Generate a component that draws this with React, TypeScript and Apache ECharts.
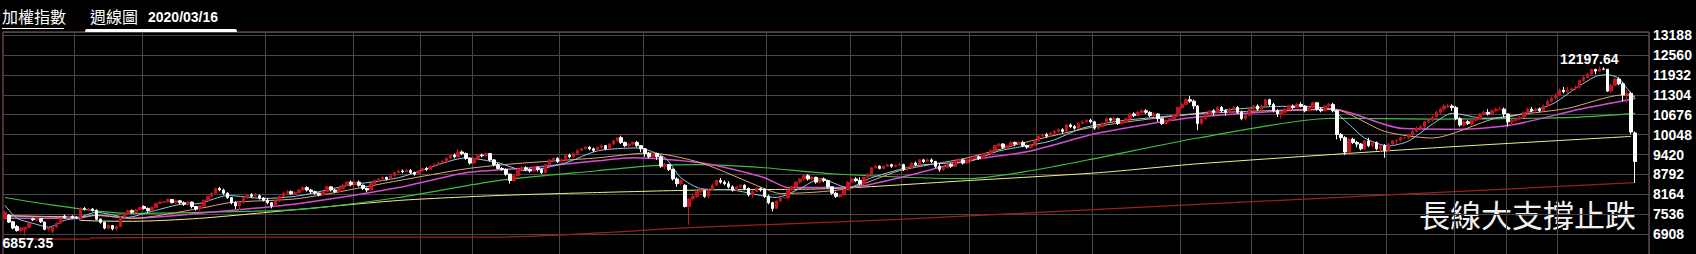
import React, { useEffect, useRef } from "react";
import * as echarts from "echarts";

type K = [number, number, number, number]; // open, close, low, high
type P = [number, number]; // week index, value

const k2012: K[] = [
  [7420,7600,7380,7650],[7510,7290,7260,7540],[7300,7100,7060,7330],[7150,7020,6990,7200],[7020,7100,6950,7130],
  [7060,7120,6857.35,7150],[7120,7250,7080,7280],[7390,7360,7320,7430],[7360,7400,7300,7440],[7400,7300,7260,7420],
  [7290,7060,7030,7310],[7060,7100,7000,7130],[7000,7130,6940,7150],[7130,7250,7100,7280],[7250,7400,7230,7420],
  [7480,7440,7400,7520],[7440,7460,7410,7500],[7470,7430,7400,7500],[7440,7420,7380,7480],[7420,7720,7400,7760],
  [7720,7690,7650,7760],[7690,7700,7640,7740],[7700,7660,7620,7730],[7660,7380,7350,7690],[7380,7280,7240,7400],
  [7280,7100,7060,7300],[7100,7180,7050,7220],[7180,7080,7030,7200],[7080,7150,7020,7180],[7150,7450,7130,7480],
  [7450,7560,7420,7590],[7560,7650,7520,7680],[7650,7600,7560,7690],[7600,7680,7580,7710],[7680,7750,7660,7780],
];
const k2013: K[] = [
  [7780,7720,7680,7820],[7720,7650,7600,7750],[7650,7750,7630,7780],[7750,7880,7720,7900],[7880,7920,7850,7950],
  [7920,7930,7900,7960],[7930,8000,7900,8030],[8000,7900,7880,8020],[7900,7960,7870,8000],[7960,7900,7850,7990],
  [7900,7850,7800,7940],[7850,7920,7830,7950],[7920,7780,7720,7940],[7780,7700,7650,7800],[7700,7800,7650,7830],
  [7800,7980,7780,8000],[7980,8100,7960,8120],[8100,8200,8080,8230],[8200,8350,8180,8380],[8350,8300,8260,8400],
  [8300,8200,8150,8340],[8200,8060,8020,8230],[8060,7900,7850,8080],[7900,7800,7700,7950],[7800,7900,7660,7930],
  [7900,8050,7880,8080],[8050,8150,8020,8180],[8150,8100,8050,8200],[8100,8120,8050,8200],[8120,8050,8000,8160],
  [8050,7980,7940,8080],[7980,7900,7850,8050],[7900,7800,7720,7920],[7800,7950,7780,7980],[7950,8100,7930,8130],
  [8100,8200,8080,8250],[8200,8250,8150,8300],[8250,8180,8150,8290],[8180,8220,8150,8260],[8220,8300,8200,8330],
  [8300,8380,8280,8420],[8380,8300,8250,8420],[8300,8250,8200,8340],[8250,8200,8150,8280],[8200,8150,8100,8220],
  [8150,8250,8130,8280],[8250,8400,8230,8420],[8400,8300,8250,8420],[8300,8250,8200,8340],[8250,8350,8230,8380],
  [8350,8450,8330,8480],[8450,8550,8430,8580],
];
const k2014: K[] = [
  [8550,8480,8420,8600],[8480,8550,8450,8580],[8550,8450,8400,8600],[8450,8350,8300,8470],[8350,8300,8230,8380],
  [8300,8500,8280,8520],[8500,8600,8480,8630],[8600,8650,8560,8680],[8650,8700,8580,8730],[8700,8650,8600,8720],
  [8650,8750,8630,8780],[8750,8850,8720,8870],[8850,8900,8820,8950],[8900,8880,8830,8950],[8880,8920,8850,8960],
  [8920,8850,8800,8960],[8850,8800,8750,8880],[8800,8900,8780,8930],[8900,8980,8870,9000],[8980,8950,8900,9020],
  [8950,9050,8930,9080],[9050,9100,9020,9130],[9100,9150,9080,9200],[9150,9200,9120,9250],[9200,9300,9180,9330],
  [9300,9400,9280,9430],[9400,9350,9300,9450],[9350,9500,9330,9593],[9500,9450,9400,9550],[9450,9300,9250,9480],
  [9300,9150,9100,9330],[9150,9300,9130,9330],[9300,9400,9280,9430],[9400,9380,9330,9450],[9380,9450,9350,9480],
  [9450,9250,9200,9470],[9250,9100,9050,9280],[9100,8980,8950,9150],[8980,8950,8900,9020],[8950,8800,8750,8980],
  [8800,8600,8500,8820],[8600,8750,8550,8780],[8750,8950,8720,8980],[8950,9000,8900,9050],[9000,8950,8900,9050],
  [8950,8900,8850,8980],[8900,9000,8880,9030],[9000,8950,8880,9050],[8950,8850,8800,8980],[8850,9100,8750,9130],
  [9100,9250,9080,9280],[9250,9300,9220,9330],
];
const k2015: K[] = [
  [9300,9200,9150,9330],[9200,9250,9150,9300],[9250,9400,9230,9430],[9400,9350,9300,9450],[9350,9450,9300,9480],
  [9450,9550,9420,9580],[9550,9600,9540,9620],[9600,9650,9580,9690],[9650,9600,9550,9680],[9600,9550,9500,9640],
  [9550,9650,9530,9680],[9650,9700,9600,9740],[9700,9600,9560,9720],[9600,9750,9580,9780],[9750,9850,9720,9880],
  [9850,9950,9820,9980],[9950,9800,9750,10014],[9800,9700,9650,9830],[9700,9750,9650,9780],[9750,9800,9700,9830],
  [9800,9700,9650,9850],[9700,9600,9500,9720],[9600,9450,9350,9620],[9450,9350,9300,9500],[9350,9450,9320,9480],
  [9450,9350,9250,9480],[9350,9050,9000,9380],[9050,9100,8950,9150],[9100,8950,8900,9120],[8950,8650,8600,8980],
  [8650,8500,8400,8700],[8500,8600,8450,8650],[8450,7780,7750,8480],[7780,8020,7203,8050],[8020,8100,7950,8200],
  [8100,8250,8050,8300],[8250,8280,8200,8380],[8280,8100,8050,8300],[8100,8300,8050,8330],[8300,8450,8280,8500],
  [8450,8600,8420,8630],[8600,8550,8500,8680],[8550,8500,8450,8600],[8500,8400,8350,8580],[8400,8300,8250,8450],
  [8300,8400,8280,8430],[8400,8450,8350,8480],[8450,8350,8300,8480],[8350,8150,8100,8380],[8150,8250,8050,8300],
  [8250,8350,8230,8380],[8350,8300,8250,8380],
];
const k2016: K[] = [
  [8330,8100,8050,8350],[8100,7900,7850,8150],[7900,7720,7627,7930],[7720,7950,7700,7980],[7950,8050,7930,8080],
  [8050,8060,8040,8070],[8060,8300,8000,8320],[8300,8400,8280,8430],[8400,8550,8380,8580],[8550,8650,8500,8680],
  [8650,8750,8600,8780],[8750,8650,8600,8800],[8650,8700,8600,8730],[8700,8550,8500,8720],[8550,8650,8500,8680],
  [8650,8600,8550,8700],[8600,8400,8350,8630],[8400,8200,8150,8420],[8200,8100,8050,8250],[8100,8150,8050,8180],
  [8150,8300,8130,8330],[8300,8550,8280,8580],[8550,8650,8530,8680],[8650,8600,8550,8700],[8600,8500,8450,8700],
  [8500,8700,8480,8720],[8700,8800,8680,8830],[8800,9000,8780,9030],[9000,9050,8980,9080],[9050,8980,8950,9080],
  [8980,9050,8950,9080],[9050,9100,9020,9130],[9100,9050,9000,9130],[9050,9080,9020,9110],[9080,9100,9050,9150],
  [9100,8950,8900,9130],[8950,9000,8900,9050],[9000,9150,8980,9180],[9150,9100,9050,9200],[9100,9250,9080,9280],
  [9250,9200,9150,9280],[9200,9250,9180,9300],[9250,9200,9150,9300],[9200,9050,9000,9220],[9050,8950,8880,9150],
  [8950,9000,8900,9050],[9000,9100,8980,9130],[9100,9050,9000,9150],[9050,9200,9030,9230],[9200,9250,9180,9300],
  [9250,9150,9100,9280],[9150,9250,9130,9280],
];
const k2017: K[] = [
  [9250,9300,9180,9350],[9300,9350,9280,9400],[9350,9300,9250,9380],[9300,9450,9280,9470],[9450,9450,9400,9480],
  [9450,9550,9420,9580],[9550,9700,9530,9730],[9700,9750,9650,9780],[9750,9650,9600,9780],[9650,9700,9600,9730],
  [9700,9800,9680,9830],[9800,9750,9700,9830],[9750,9800,9730,9850],[9800,9700,9650,9850],[9700,9650,9600,9730],
  [9650,9700,9600,9730],[9700,9850,9680,9880],[9850,10000,9830,10020],[10000,10050,9980,10080],[10050,10000,9950,10100],
  [10000,10100,9980,10130],[10100,10150,10050,10200],[10150,10200,10100,10250],[10200,10150,10100,10250],[10150,10350,10130,10380],
  [10350,10300,10250,10400],[10300,10250,10200,10350],[10250,10400,10230,10430],[10400,10450,10380,10500],[10450,10500,10420,10530],
  [10500,10450,10400,10550],[10450,10250,10200,10480],[10250,10300,10200,10350],[10300,10400,10280,10430],[10400,10550,10380,10580],
  [10550,10500,10450,10580],[10500,10550,10480,10600],[10550,10400,10350,10580],[10400,10450,10350,10480],[10450,10550,10430,10580],
  [10550,10700,10530,10730],[10700,10650,10600,10750],[10650,10750,10630,10800],[10750,10800,10700,10850],[10800,10750,10700,10850],
  [10750,10650,10600,10780],[10650,10700,10600,10750],[10700,10550,10450,10720],[10550,10400,10350,10580],[10400,10500,10380,10530],
  [10500,10550,10480,10580],[10550,10650,10530,10680],
];
const k2018: K[] = [
  [10650,10900,10630,10930],[10900,11000,10850,11050],[11000,11150,10980,11200],[11150,11100,11050,11270],[11100,10950,10850,11150],
  [10950,10400,10189,10980],[10400,10550,10350,10580],[10550,10700,10520,10730],[10700,10800,10600,10830],[10800,10750,10650,10850],
  [10750,10900,10730,10950],[10900,10800,10750,10950],[10800,10750,10650,10850],[10750,10850,10700,10900],[10850,10900,10800,10950],
  [10900,10750,10700,10950],[10750,10550,10500,10800],[10550,10650,10500,10700],[10650,10850,10630,10900],[10850,10950,10800,10980],
  [10950,10850,10800,11000],[10850,10950,10800,11000],[10950,11150,10930,11170],[11150,11000,10950,11180],[11000,10800,10750,11050],
  [10800,10700,10600,10850],[10700,10750,10550,10800],[10750,10850,10700,10900],[10850,10950,10820,10980],[10950,10900,10850,11000],
  [10900,11000,10880,11050],[11000,10950,10900,11080],[10950,10800,10750,10980],[10800,10900,10780,10930],[10900,11050,10880,11080],
  [11050,10850,10800,11080],[10850,10800,10750,10900],[10800,10950,10780,10980],[10950,11000,10900,11050],[11000,10800,10750,11050],
  [10800,10050,9900,10830],[10050,9950,9850,10100],[9950,9500,9400,10000],[9500,9900,9450,9950],[9900,9800,9750,9950],
  [9800,9750,9650,9850],[9750,9600,9550,9780],[9600,9850,9580,9880],[9850,9700,9650,9950],[9700,9800,9650,9830],
  [9800,9600,9550,9830],[9600,9700,9500,9730],[9700,9550,9319,9750],
];
const k2019: K[] = [
  [9550,9750,9520,9780],[9750,9850,9700,9880],[9850,9870,9750,9900],[9870,9950,9830,9980],[9950,9950,9930,9970],
  [9950,10050,9900,10080],[10050,10150,10000,10200],[10150,10250,10100,10300],[10250,10300,10200,10350],[10300,10450,10250,10480],
  [10450,10500,10400,10550],[10500,10600,10450,10650],[10600,10750,10580,10800],[10750,10850,10700,10900],[10850,10950,10800,11000],
  [10920,10950,10880,11020],[10950,10900,10800,11000],[10900,10550,10500,10950],[10550,10350,10300,10600],[10350,10450,10300,10500],
  [10450,10400,10350,10500],[10400,10500,10350,10550],[10500,10550,10450,10600],[10550,10700,10520,10730],[10700,10750,10650,10800],
  [10750,10700,10650,10850],[10700,10800,10680,10850],[10800,10850,10750,10900],[10850,10850,10800,10950],[10850,10700,10600,10900],
  [10700,10450,10300,10720],[10450,10500,10350,10550],[10500,10550,10450,10600],[10550,10600,10500,10650],[10600,10750,10580,10780],
  [10750,10850,10700,10900],[10850,10800,10750,10920],[10800,10850,10750,10900],[10850,10800,10750,10900],[10800,10950,10780,11000],
  [10950,11100,10920,11150],[11100,11200,11050,11250],[11200,11300,11150,11350],[11300,11450,11250,11500],[11450,11400,11350,11550],
  [11400,11450,11350,11550],[11450,11500,11400,11550],[11500,11550,11450,11600],[11550,11750,11500,11780],[11750,11850,11700,11900],
  [11850,11950,11820,12000],[11950,12100,11900,12130],
];
const k2020: K[] = [
  [12100,12050,11950,12130],[12050,12120,12030,12197.64],[12120,12110,12080,12170],[12110,11420,11400,12110],[11420,11600,11350,11650],
  [11600,11800,11580,11830],[11800,11650,11600,11850],[11650,11300,11100,11700],[11300,11350,11050,11450],[11350,10130,10050,11400],
  [10100,9200,8523,10150],
];

const candles: K[] = [...k2012, ...k2013, ...k2014, ...k2015, ...k2016, ...k2017, ...k2018, ...k2019, ...k2020];
const EMPTY_WEEKS_AFTER = 3;

// Moving-average lines: [week index, value]
const maBlue: P[] = [[0,7815],[3,7408],[7,7252],[11,7127],[15,7346],[18,7408],[23,7596],[31,7440],[36,7596],[44,7846],[49,7877],[56,8127],[65,8034],[74,8120],[86,8440],[99,8690],[112,9220],[116,9314],[124,9158],[131,8908],[141,9158],[149,9533],[159,9627],[166,9314],[170,8690],[175,8346],[183,8300],[194,8065],[200,8346],[205,8658],[212,8377],[218,8690],[229,9064],[243,9220],[250,9533],[263,9845],[271,10251],[280,10470],[292,10626],[300,10720],[309,10845],[321,10939],[333,10876],[338,10376],[342,9940],[348,9690],[353,9845],[359,10376],[364,10720],[372,10564],[379,10626],[389,11001],[395,11501],[400,11876],[403,11938],[406,11813],[408,11501],[410,11189]];
const maOrange: P[] = [[0,7502],[7,7471],[18,7440],[23,7502],[32,7408],[49,7721],[57,7908],[74,8034],[99,8596],[116,8970],[128,9127],[149,9314],[162,9470],[175,9158],[191,8346],[195,8190],[212,8346],[225,8908],[242,9314],[258,9845],[275,10314],[300,10700],[334,10845],[347,10150],[359,9940],[375,10564],[393,10876],[407,11300],[410,11250]];
const maMagenta: P[] = [[0,7408],[18,7408],[23,7502],[32,7408],[49,7565],[74,7877],[99,8377],[116,8846],[132,9002],[149,9220],[158,9314],[175,9158],[191,8690],[197,8377],[212,8377],[225,8690],[242,9220],[258,9533],[275,10095],[300,10600],[334,10845],[351,10251],[367,10220],[380,10376],[396,10845],[410,11189]];
const maGreen: P[] = [[0,8065],[31,7565],[49,7596],[74,7690],[99,8065],[124,8596],[149,8908],[162,9064],[175,9100],[191,9002],[208,8814],[242,8658],[258,8908],[275,9314],[300,9940],[334,10564],[359,10533],[384,10564],[396,10600],[410,10720]];
const maYellow: P[] = [[0,7480],[18,7440],[19,7346],[32,7315],[49,7408],[74,7690],[99,7971],[124,8127],[149,8221],[175,8300],[208,8346],[242,8596],[275,8846],[300,9127],[359,9627],[409,9990]];
const maDarkRed: P[] = [[0,6752],[21,6752],[22,6790],[74,6815],[123,6815],[175,7127],[225,7377],[300,7846],[410,8533]];

const yTickLabels = [6908, 7536, 8164, 8792, 9420, 10048, 10676, 11304, 11932, 12560, 13188];
const verticalGridWeeks = [18, 35, 66, 88, 105, 118, 140, 161, 192, 213, 226, 243, 260, 274, 296, 314, 327, 348, 365, 378, 391];

const titleIndex = "加權指數";
const titleWeekly = "週線圖";
const titleDate = "2020/03/16";
const noteText = "長線大支撐止跌";

const weeks: string[] = (() => {
  const out: string[] = [];
  const d = new Date(Date.UTC(2012, 4, 7));
  for (let i = 0; i < candles.length + EMPTY_WEEKS_AFTER; i++) {
    out.push(d.toISOString().slice(0, 10));
    d.setUTCDate(d.getUTCDate() + 7);
  }
  return out;
})();

const NUM_FONT = "'Liberation Sans', Arial, sans-serif";
const CJK_FONT = "'Noto Sans CJK TC', 'Noto Sans', sans-serif";

function lineSeries(name: string, data: P[], color: string, width = 1) {
  return {
    name,
    type: "line",
    data,
    showSymbol: false,
    symbol: "none",
    connectNulls: true,
    smooth: 0.25,
    lineStyle: { color, width },
    silent: true,
    z: 2,
  };
}

export default function App() {
  const ref = useRef<HTMLDivElement>(null);
  useEffect(() => {
    if (!ref.current) return;
    const chart = echarts.init(ref.current, null, { renderer: "svg" });
    const gridSet = new Set(verticalGridWeeks);
    chart.setOption({
      animation: false,
      backgroundColor: "#000000",
      grid: { left: 3, top: 32, right: 47, bottom: 2, show: true, borderColor: "#9a5a6c", borderWidth: 1, backgroundColor: "transparent" },
      xAxis: {
        type: "category",
        data: weeks,
        boundaryGap: true,
        axisLine: { show: false },
        axisTick: { show: false },
        axisLabel: { show: false },
        splitLine: { show: true, interval: (i: number) => gridSet.has(i), lineStyle: { color: "#474747", width: 1 } },
      },
      yAxis: {
        type: "value",
        position: "right",
        min: 5652,
        max: 13283,
        interval: 628,
        scale: true,
        axisLine: { show: false },
        axisTick: { show: false },
        splitLine: { show: true, lineStyle: { color: "#474747", width: 1 } },
        axisLabel: {
          color: "#ffffff",
          fontSize: 14,
          fontWeight: "bold",
          fontFamily: NUM_FONT,
          margin: 4,
          formatter: (v: number) => (yTickLabels.includes(v) ? String(v) : ""),
        },
      },
      series: [
        lineSeries("10y", maDarkRed, "#9c1f1f", 1.2),
        lineSeries("5y", maYellow, "#f2ee8c", 1),
        lineSeries("2y", maGreen, "#3fbf3f", 1.2),
        lineSeries("1y", maMagenta, "#d24fd2", 1.5),
        lineSeries("26w", maOrange, "#e0a57a", 1),
        lineSeries("13w", maBlue, "#8fcbe8", 1),
        {
          name: "K",
          type: "candlestick",
          data: candles,
          barWidth: 3,
          z: 3,
          itemStyle: { color: "#c4141c", color0: "#ffffff", borderColor: "#c4141c", borderColor0: "#ffffff", borderWidth: 1 },
          markPoint: {
            symbol: "circle",
            symbolSize: 0,
            silent: true,
            label: { show: true, color: "#ffffff", fontSize: 14, fontWeight: "bold", fontFamily: NUM_FONT, position: "inside" },
            data: [
              { type: "max", valueDim: "highest", label: { offset: [-10, -7], formatter: (p: any) => String(p.value) } },
              { type: "min", valueDim: "lowest", label: { offset: [3, 7], formatter: (p: any) => String(p.value) } },
            ],
          },
        },
      ],
      graphic: [
        { type: "text", left: 2, top: 8, style: { text: titleIndex, fill: "#ffffff", font: `16px ${CJK_FONT}` } },
        { type: "line", shape: { x1: 2, y1: 28.5, x2: 64, y2: 28.5 }, style: { stroke: "#ffffff", lineWidth: 1 } },
        { type: "text", left: 90, top: 8, style: { text: titleWeekly, fill: "#ffffff", font: `16px ${CJK_FONT}` } },
        { type: "text", left: 148, top: 10, style: { text: titleDate, fill: "#ffffff", font: `bold 14px ${NUM_FONT}` } },
        { type: "rect", shape: { x: 85, y: 29, width: 152, height: 4, r: 2 }, style: { fill: "#ffffff" } },
        { type: "text", left: 1419, top: 198, style: { text: noteText, fill: "#f0f0f0", font: `31px ${CJK_FONT}` } },
      ],
    });
    return () => chart.dispose();
  }, []);
  return (
    <div
      ref={ref}
      style={{ position: "fixed", left: 0, top: 0, width: 1696, height: 276, background: "#000" }}
    />
  );
}
